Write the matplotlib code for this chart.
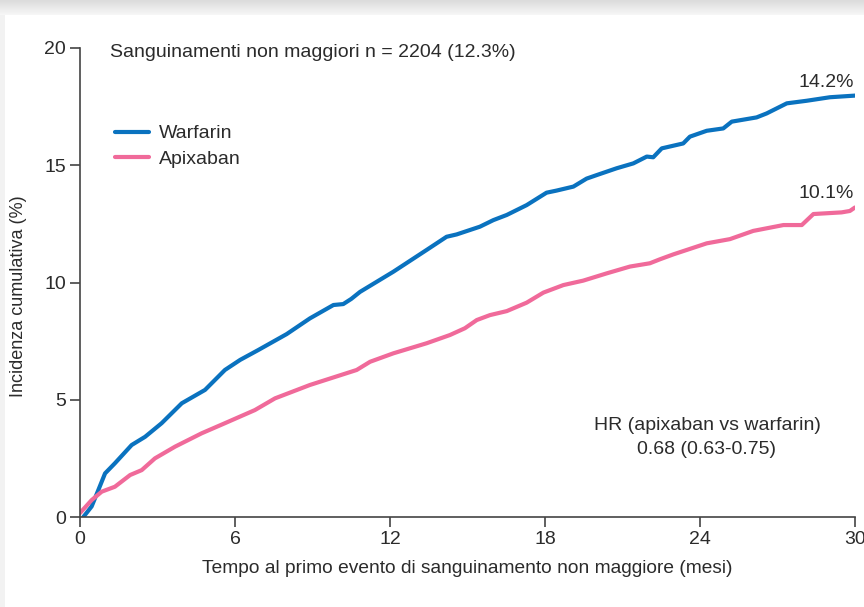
import numpy as np
import matplotlib
matplotlib.use("Agg")
import matplotlib.pyplot as plt

# ---- data ----
warfarin_t = [0.13, 0.45, 0.71, 0.97, 1.35, 2.0, 2.52, 3.16, 3.94, 4.84, 5.61, 6.2, 6.9,
              8.0, 8.9, 9.81, 10.19, 10.5, 10.84, 12.13, 13.42, 14.19, 14.58, 15.48, 16.0,
              16.52, 17.29, 18.06, 18.45, 19.1, 19.61, 20.0, 20.77, 21.42, 21.94, 22.19,
              22.52, 23.35, 23.61, 24.26, 24.9, 25.23, 26.19, 26.58, 27.36, 28.13, 29.03, 30.0]
warfarin_y = [0.0, 0.45, 1.15, 1.86, 2.29, 3.07, 3.42, 4.0, 4.85, 5.42, 6.27, 6.7, 7.12,
              7.8, 8.47, 9.04, 9.08, 9.3, 9.6, 10.46, 11.39, 11.95, 12.05, 12.38, 12.66,
              12.88, 13.3, 13.83, 13.92, 14.09, 14.43, 14.58, 14.87, 15.08, 15.37, 15.34,
              15.72, 15.93, 16.22, 16.47, 16.57, 16.86, 17.04, 17.21, 17.64, 17.75, 17.9, 17.97]

apixaban_t = [0.0, 0.45, 0.84, 1.35, 1.94, 2.39, 2.9, 3.68, 4.71, 5.61, 6.77, 7.55, 8.9,
              10.71, 11.23, 12.13, 13.42, 14.32, 14.9, 15.36, 15.87, 16.52, 17.29, 17.94,
              18.71, 19.48, 20.39, 21.29, 22.06, 22.45, 22.97, 24.26, 25.16, 26.06, 27.23,
              27.94, 28.39, 29.48, 29.8, 30.0]
apixaban_y = [0.17, 0.72, 1.08, 1.29, 1.79, 2.0, 2.5, 3.0, 3.57, 4.0, 4.56, 5.06, 5.63,
              6.27, 6.62, 6.98, 7.41, 7.76, 8.05, 8.4, 8.61, 8.78, 9.14, 9.57,
              9.89, 10.08, 10.39, 10.68, 10.82, 10.99, 11.2, 11.67, 11.85, 12.2, 12.45,
              12.45, 12.92, 12.99, 13.05, 13.2]

x_ticks = [0, 6, 12, 18, 24, 30]
y_ticks = [0, 5, 10, 15, 20]
series_names = ["Warfarin", "Apixaban"]
end_labels = ["14.2%", "10.1%"]
title_text = "Sanguinamenti non maggiori n = 2204 (12.3%)"
hr_text = "HR (apixaban vs warfarin)\n0.68 (0.63-0.75)"
xlabel = "Tempo al primo evento di sanguinamento non maggiore (mesi)"
ylabel = "Incidenza cumulativa (%)"

BLUE = "#0a72bf"
PINK = "#f06a9a"
DARK = "#2b2b2b"

plt.rcParams['font.family'] = ['Liberation Sans', 'DejaVu Sans']
FS = 14

W, H = 864, 607
fig = plt.figure(figsize=(W / 100, H / 100), dpi=100)
fig.patch.set_facecolor("white")

# top grey gradient band and left light strip
band_h = 15 / H
bax = fig.add_axes([0, 1 - band_h, 1, band_h])
grad = np.linspace(0.86, 0.97, 50).reshape(-1, 1)
bax.imshow(np.dstack([grad, grad, grad]), aspect='auto', extent=[0, 1, 0, 1])
bax.axis('off')
lax = fig.add_axes([0, 0, 5 / W, 1 - band_h])
lax.set_facecolor("#f2f2f2")
lax.set_xticks([]); lax.set_yticks([])
for s in lax.spines.values():
    s.set_visible(False)

ax = fig.add_axes([80 / W, 1 - 517 / H, 775 / W, 469 / H])
ax.set_xlim(0, 30)
ax.set_ylim(0, 20)

l1, = ax.plot(warfarin_t, warfarin_y, color=BLUE, lw=3.0, solid_capstyle='round',
              solid_joinstyle='round', label=series_names[0])
l2, = ax.plot(apixaban_t, apixaban_y, color=PINK, lw=3.0, solid_capstyle='round',
              solid_joinstyle='round', label=series_names[1])

for s in ["top", "right"]:
    ax.spines[s].set_visible(False)
for s in ["left", "bottom"]:
    ax.spines[s].set_color("#444444")
    ax.spines[s].set_linewidth(1.2)
ax.set_xticks(x_ticks)
ax.set_yticks(y_ticks)
ax.tick_params(axis='both', direction='out', length=7, width=1.2, color="#444444",
               labelsize=FS, labelcolor=DARK, pad=3)

ax.set_xlabel(xlabel, fontsize=13.8, color=DARK, labelpad=9)
ax.set_ylabel(ylabel, fontsize=13, color=DARK, labelpad=6)
ax.yaxis.set_label_coords(-0.068, 0.471)

ax.text(1.16, 19.8, title_text, fontsize=FS, color=DARK, va='center', ha='left')
ax.text(29.95, 18.55, end_labels[0], fontsize=FS, color=DARK, ha='right', va='center')
ax.text(29.95, 13.8, end_labels[1], fontsize=FS, color=DARK, ha='right', va='center')
ax.text(24.27, 3.39, hr_text, fontsize=FS, color=DARK, ha='center', va='center',
        linespacing=1.6)

leg = ax.legend(handles=[l1, l2], loc='upper left', bbox_to_anchor=(0.035, 0.853),
                frameon=False, fontsize=FS, handlelength=1.75, handletextpad=0.5,
                labelspacing=0.42, borderaxespad=0.0)
for t in leg.get_texts():
    t.set_color(DARK)

fig.savefig("out.png", dpi=100)
